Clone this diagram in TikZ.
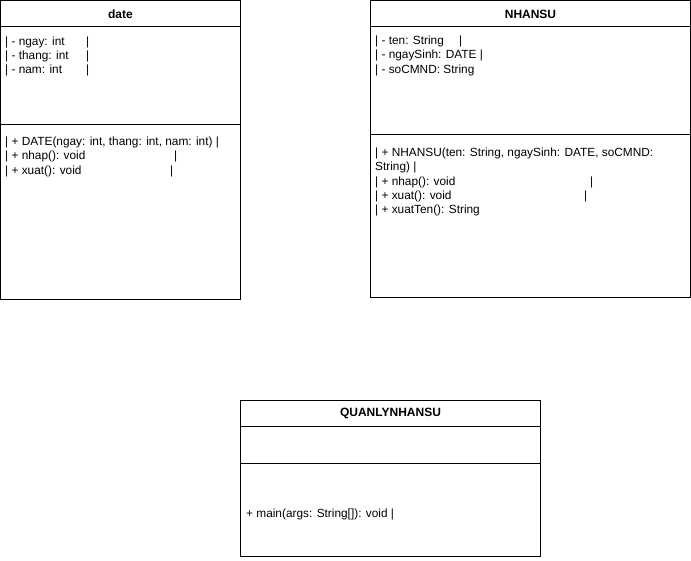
\documentclass[tikz,border=0pt]{standalone}
\usepackage{fontspec}
\setmainfont{Liberation Sans}
\begin{document}
\begin{tikzpicture}[x=1pt,y=-1pt,
  box/.style={draw=black,line width=1pt},
  sep/.style={draw=black,line width=1pt},
  ttl/.style={font=\fontsize{12}{14}\selectfont\bfseries,inner sep=0pt},
  ln/.style={font=\fontsize{11.85}{14}\selectfont,inner sep=0pt,anchor=base west}]
\useasboundingbox (0,0) rectangle (691,560);
\fill[white] (0,0) rectangle (691,560);
% date class
\draw[box] (0.5,0.5) rectangle (240.5,299.5);
\draw[sep] (0.5,26) -- (240.5,26);
\draw[sep] (0.5,124.5) -- (240.5,124.5);
\node[ttl] (dt) at (120.5,14) {date};
\node[ln] (d1) at (5,45) {\makebox[81pt][l]{| - ngay: int}|};
\node[ln] (d2) at (5,59) {\makebox[81pt][l]{| - thang: int}|};
\node[ln] (d3) at (5,73) {\makebox[81pt][l]{| - nam: int}|};
\node[ln] (d4) at (5,145) {| + DATE(ngay: int, thang: int, nam: int) |};
\node[ln] (d5) at (5,159.5) {\makebox[169pt][l]{| + nhap(): void}|};
\node[ln] (d6) at (5,174) {\makebox[165pt][l]{| + xuat(): void}|};
% NHANSU class
\draw[box] (370.5,0.5) rectangle (690.5,297.5);
\draw[sep] (370.5,26) -- (690.5,26);
\draw[sep] (370.5,134.5) -- (690.5,134.5);
\node[ttl] (nt) at (530.5,14) {NHANSU};
\node[ln] (n1) at (375,44) {\makebox[84pt][l]{| - ten: String}|};
\node[ln] (n2) at (375,58) {| - ngaySinh: DATE |};
\node[ln] (n3) at (375,73) {| - soCMND: String};
\node[ln] (n4) at (375,156) {| + NHANSU(ten: String, ngaySinh: DATE, soCMND:};
\node[ln] (n5) at (375,170) {String) |};
\node[ln] (n6) at (375,185) {\makebox[215pt][l]{| + nhap(): void}|};
\node[ln] (n7) at (375,199) {\makebox[209pt][l]{| + xuat(): void}|};
\node[ln] (n8) at (375,213) {| + xuatTen(): String};
% QUANLYNHANSU class
\draw[box] (240.5,400.5) rectangle (540.5,556);
\draw[sep] (240.5,426) -- (540.5,426);
\draw[sep] (240.5,463) -- (540.5,463);
\node[ttl] (qt) at (390.5,413) {QUANLYNHANSU};
\node[ln] (q1) at (246,517) {+ main(args: String[]): void |};
\end{tikzpicture}
\end{document}
